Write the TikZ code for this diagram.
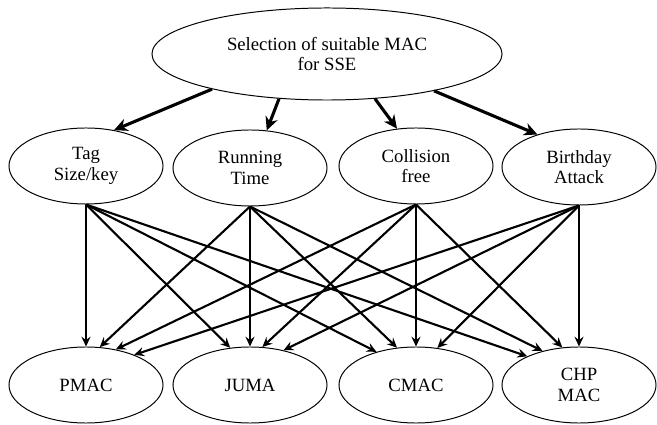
\documentclass[tikz,border=0pt]{standalone}
\usepackage{fontspec}
\setmainfont{Liberation Serif}
\usetikzlibrary{arrows.meta, shapes.geometric}
\tikzset{>={Stealth[length=7pt, width=6.5pt, inset=2.5pt]}}
\tikzset{
    crit/.style = {ellipse, draw, line width = 0.7pt, inner sep = 0pt, align = center,
        minimum width = 3.85cm, minimum height = 1.9cm,
        font = \fontsize{13.3}{14.5}\selectfont},
    goal/.style = {crit, minimum width = 8.75cm, minimum height = 2.3cm},
    toparrow/.style = {-{Stealth[length = 9.5pt, width = 9pt, inset = 3pt]}, line width = 2.2pt},
    macarrow/.style = {->, line width = 1.5pt},
}

\begin{document}
\begin{tikzpicture}[x = 0.025cm, y = -0.025cm]
    \useasboundingbox (0,0) rectangle (657,425);

    \node[goal] (sel) at (327, 54) {Selection of suitable MAC\\for SSE};

    \node[crit] (tag) at (86, 166) {Tag\\Size/key};
    \node[crit] (run) at (250, 168) {Running\\Time};
    \node[crit] (col) at (416, 166) {Collision\\free};
    \node[crit] (bday) at (579, 167) {Birthday\\Attack};

    \node[crit] (pmac) at (86, 385) {PMAC};
    \node[crit] (juma) at (250, 385) {JUMA};
    \node[crit] (cmac) at (416, 385) {CMAC};
    \node[crit] (chp) at (579, 385) {CHP\\MAC};

    \draw[toparrow] (sel.197) -- (tag.52);
    \draw[toparrow] (sel.223) -- (run.66);
    \draw[toparrow] (sel.317) -- (col.117);
    \draw[toparrow] (sel.341) -- (bday.142);

    \draw[macarrow] (tag.south) -- (pmac.90);
    \draw[macarrow] (tag.south) -- (juma.118);
    \draw[macarrow] (tag.south) -- (cmac.140);
    \draw[macarrow] (tag.south) -- (chp.151);

    \draw[macarrow] (run.south) -- (pmac.70);
    \draw[macarrow] (run.south) -- (juma.90);
    \draw[macarrow] (run.south) -- (cmac.117);
    \draw[macarrow] (run.south) -- (chp.137);

    \draw[macarrow] (col.south) -- (pmac.50);
    \draw[macarrow] (col.south) -- (juma.72);
    \draw[macarrow] (col.south) -- (cmac.90);
    \draw[macarrow] (col.south) -- (chp.114);

    \draw[macarrow] (bday.south) -- (pmac.32);
    \draw[macarrow] (bday.south) -- (juma.46);
    \draw[macarrow] (bday.south) -- (cmac.60);
    \draw[macarrow] (bday.south) -- (chp.90);
\end{tikzpicture}
\end{document}
